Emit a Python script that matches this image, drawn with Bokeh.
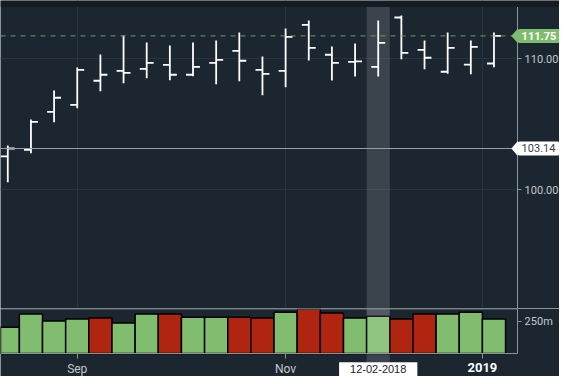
from bokeh.plotting import figure
from bokeh.models import (Range1d, Span, Label, BoxAnnotation, PolyAnnotation,
                          FixedTicker, NumeralTickFormatter)
from bokeh.layouts import column
from bokeh.embed import file_html
from bokeh.resources import INLINE

# ---------------- data (weekly OHLC + volume) ----------------
week_index = list(range(22))
opens = [102.53, 103.04, 105.94, 106.48, 108.32, 109.08, 109.23, 109.54, 108.78, 109.69, 110.61,
         109.16, 109.08, 112.60, 110.31, 109.77, 109.39, 113.16, 110.69, 109.01, 109.56, 109.64]
highs = [103.37, 105.36, 107.57, 109.33, 110.33, 111.78, 111.25, 111.02, 111.25, 111.40, 112.01,
         110.18, 112.32, 112.93, 110.94, 111.17, 112.93, 113.31, 111.40, 112.01, 111.40, 112.01]
lows = [100.56, 102.78, 105.15, 106.22, 107.52, 108.13, 108.52, 108.36, 108.67, 108.06, 108.29,
        107.22, 107.83, 109.87, 108.34, 108.65, 108.65, 109.97, 109.20, 108.85, 108.82, 109.36]
closes = [103.14, 105.18, 107.02, 109.16, 108.78, 108.93, 109.69, 108.78, 109.39, 109.92, 109.85,
          108.85, 111.68, 110.84, 109.69, 109.80, 111.22, 110.46, 110.08, 110.84, 110.92, 111.75]
volumes_m = [206, 308, 253, 269, 277, 238, 308, 308, 284, 284, 284,
             277, 323, 347, 316, 277, 292, 269, 308, 308, 323, 269]

x_ticks = [3, 12, 20.5]
x_tick_labels = ["Sep", "Nov", "2019"]
price_ticks = [100, 110]
volume_ticks = [250]
volume_tick_labels = ["250m"]
last_price = 111.75
ref_price = 103.14
hover_week = 16
hover_label = "12-02-2018"

# ---------------- styling / layout ----------------
BG = "#1b2630"
TOPBAND = "#151c23"
GRID = "#27333d"
AXIS = "#8d9399"
TXT = "#c3c8cc"
UP = "#80bd6f"
DOWN = "#b0250f"
FONT = "Roboto"

X0, X1 = -0.315, 23.83      # visible week range (right part holds the price scale)
AXIS_X = 22.02              # where the right-hand scale is drawn
P0, P1 = 90.9, 114.46       # price range of the upper panel
BAND_TOP = 113.96
V0, V1 = -179.7, 351.6      # volume range (negative part = date axis strip)

colors = []
for i in range(len(closes)):
    prev = closes[i - 1] if i > 0 else opens[i]
    colors.append(UP if closes[i] >= prev else DOWN)

xs = week_index
xo = [x - 0.3 for x in xs]
xc = [x + 0.3 for x in xs]

xr = Range1d(X0, X1)


def style_axis(ax, size="11px"):
    ax.axis_line_color = AXIS
    ax.major_tick_line_color = AXIS
    ax.major_tick_in = 0
    ax.minor_tick_line_color = None
    ax.major_label_text_color = TXT
    ax.major_label_text_font = FONT
    ax.major_label_text_font_size = size


# ---------------- price panel ----------------
p = figure(width=559, height=308, x_range=xr, y_range=Range1d(P0, P1),
           output_backend="svg", toolbar_location=None,
           y_axis_location="right", x_axis_location=None,
           min_border_left=0, min_border_right=0, min_border_top=0, min_border_bottom=0,
           background_fill_color=BG, border_fill_color=BG, outline_line_color=None)

p.xgrid.ticker = FixedTicker(ticks=x_ticks)
p.xgrid.grid_line_color = GRID
p.ygrid.ticker = FixedTicker(ticks=price_ticks)
p.ygrid.grid_line_color = GRID
try:
    p.ygrid.cross_bounds = (X0, AXIS_X)
except Exception:
    pass

ya = p.yaxis[0]
ya.ticker = FixedTicker(ticks=price_ticks)
ya.formatter = NumeralTickFormatter(format="0.00")
ya.fixed_location = AXIS_X
style_axis(ya)
ya.major_tick_out = 4
ya.major_label_standoff = 3

p.add_layout(BoxAnnotation(bottom=BAND_TOP, fill_color=TOPBAND, fill_alpha=1, line_color=None))
p.add_layout(BoxAnnotation(left=hover_week - 0.5, right=hover_week + 0.5, top=BAND_TOP,
                           fill_color="white", fill_alpha=0.14, line_color=None))

p.add_layout(Span(location=ref_price, dimension="width", line_color="#9aa0a5", line_width=1))
p.add_layout(Span(location=last_price, dimension="width", line_color="#6f9a69",
                  line_width=1, line_dash="5 5"))

p.segment(x0=xs, y0=lows, x1=xs, y1=highs, line_color="white", line_width=1.8)
p.segment(x0=xo, y0=opens, x1=xs, y1=opens, line_color="white", line_width=1.8)
p.segment(x0=xs, y0=closes, x1=xc, y1=closes, line_color="white", line_width=1.8)

# callouts on the price scale
p.add_layout(PolyAnnotation(xs=[AXIS_X - 0.27, AXIS_X + 0.01, AXIS_X + 0.01],
                            ys=[last_price, last_price + 0.56, last_price - 0.56],
                            fill_color=UP, fill_alpha=1, line_color=None))
p.add_layout(Label(x=AXIS_X, y=last_price, text=f"{last_price:.2f}", text_align="left",
                   text_baseline="middle", text_color="white", text_font_style="bold",
                   text_font=FONT, text_font_size="11px",
                   background_fill_color=UP, border_radius=2, padding=(4, 3)))
p.add_layout(PolyAnnotation(xs=[AXIS_X - 0.27, AXIS_X + 0.01, AXIS_X + 0.01],
                            ys=[ref_price, ref_price + 0.57, ref_price - 0.57],
                            fill_color="white", fill_alpha=1, line_color=None))
p.add_layout(Label(x=AXIS_X, y=ref_price, text=f"{ref_price:.2f}", text_align="left",
                   text_baseline="middle", text_color="#3a3f44",
                   text_font=FONT, text_font_size="11px",
                   background_fill_color="white", border_radius=2, padding=(4, 3)))

# ---------------- volume panel (with the date strip below) ----------------
v = figure(width=559, height=68, x_range=xr, y_range=Range1d(V0, V1),
           output_backend="svg", toolbar_location=None,
           y_axis_location="right",
           min_border_left=0, min_border_right=0, min_border_top=0, min_border_bottom=0,
           background_fill_color=BG, border_fill_color=BG, outline_line_color=None)
v.xgrid.visible = False
v.ygrid.visible = False

v.add_layout(BoxAnnotation(left=hover_week - 0.5, right=hover_week + 0.5, bottom=-70,
                           fill_color="white", fill_alpha=0.14, line_color=None, level="underlay"))

v.vbar(x=xs, top=volumes_m, width=1.0, fill_color=colors, line_color="black", line_width=1.5)
v.add_layout(BoxAnnotation(left=hover_week - 0.5, right=hover_week + 0.5, bottom=0,
                           fill_color="white", fill_alpha=0.12, line_color=None))

v.segment(x0=[X0], y0=[V1], x1=[AXIS_X], y1=[V1], line_color="#6d757c", line_width=2)

vy = v.yaxis[0]
vy.ticker = FixedTicker(ticks=volume_ticks)
vy.major_label_overrides = {volume_ticks[0]: volume_tick_labels[0]}
vy.fixed_location = AXIS_X
vy.bounds = (0, V1)
style_axis(vy)
vy.major_tick_out = 4
vy.major_label_standoff = 3

vx = v.xaxis[0]
vx.ticker = FixedTicker(ticks=x_ticks)
vx.major_label_overrides = {x_ticks[0]: x_tick_labels[0], x_ticks[1]: x_tick_labels[1],
                            x_ticks[2]: " "}
vx.fixed_location = 0
vx.bounds = (X0, AXIS_X)
style_axis(vx, "12px")
vx.major_tick_out = 5
vx.major_label_standoff = 3

v.add_layout(Label(x=x_ticks[2], y=-109, text=x_tick_labels[2],
                   text_align="center", text_baseline="middle", text_color="white",
                   text_font_style="bold", text_font=FONT, text_font_size="13px"))
v.add_layout(Label(x=hover_week, y=-124, text=hover_label,
                   text_align="center", text_baseline="middle", text_color="#222222",
                   text_font="Liberation Sans", text_font_size="11px",
                   background_fill_color="white", padding=(11, 3)))

layout = column(p, v, spacing=0)
open("out.html", "w").write(file_html(layout, INLINE))
